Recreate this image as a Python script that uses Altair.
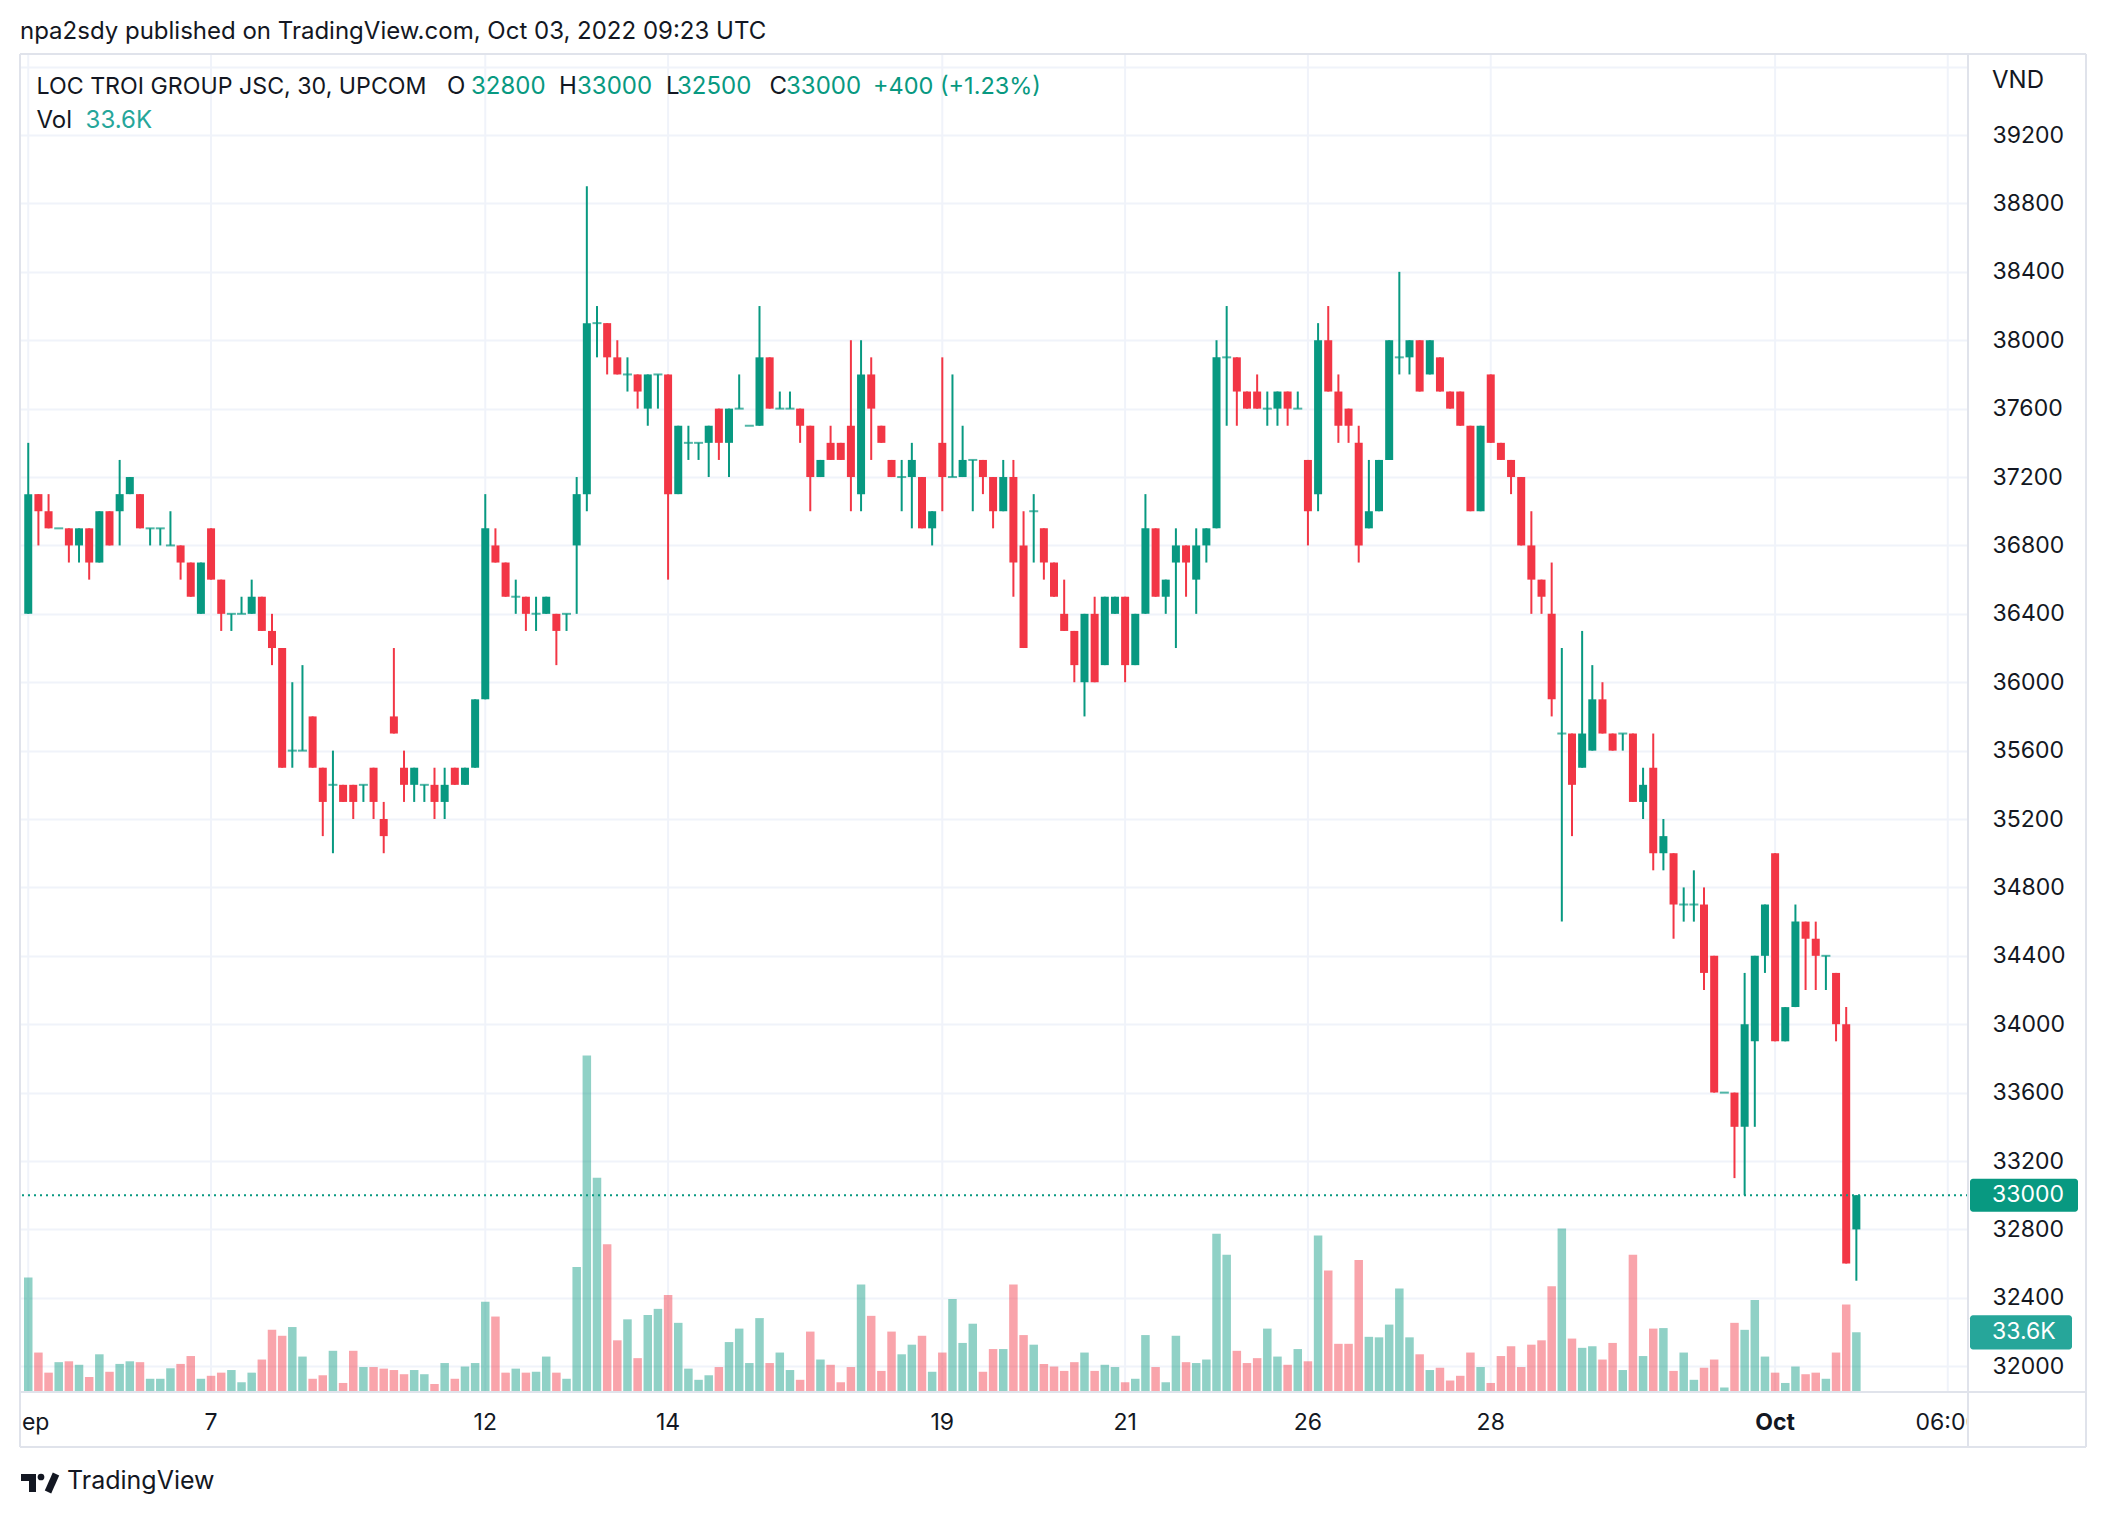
import altair as alt
import pandas as pd

# ---------------- data ----------------
opens = [36400,37100,37000,36900,36900,36800,36900,36700,37000,37000,
         37100,37100,36900,36900,36800,36800,36700,36400,36900,36600,
         36400,36400,36400,36500,36300,36200,35600,35600,35800,35500,
         35400,35400,35400,35400,35500,35200,35800,35500,35400,35400,
         35400,35300,35500,35400,35500,35900,36800,36700,36500,36500,
         36400,36400,36400,36400,36800,37100,38100,38100,37900,37800,
         37800,37600,37800,37800,37100,37400,37400,37400,37600,37400,
         37600,37500,37500,37900,37600,37600,37600,37500,37200,37400,
         37400,37500,37100,37800,37500,37300,37200,37200,37200,36900,
         37400,37200,37200,37300,37300,37200,37000,37200,36800,37000,
         36900,36700,36400,36300,36000,36400,36100,36400,36500,36100,
         36400,36900,36500,36700,36800,36600,36800,36900,37900,37900,
         37700,37700,37600,37600,37700,37600,37300,37100,38000,37700,
         37600,37400,36900,37000,37300,37900,37900,38000,37800,37900,
         37700,37700,37500,37000,37800,37400,37300,37200,36800,36600,
         36400,35700,35700,35500,35600,35900,35700,35700,35700,35300,
         35500,35000,35000,34700,34700,34700,34400,33600,33600,33400,
         33900,34400,35000,33900,34100,34600,34500,34400,34300,34000,
         32800]
highs = [37400,37100,37100,36900,36900,36900,36900,37000,37000,37300,
         37200,37100,36900,36900,37000,36800,36700,36700,36900,36600,
         36400,36500,36600,36500,36400,36200,36000,36100,35800,35500,
         35600,35400,35400,35400,35500,35300,36200,35600,35500,35400,
         35500,35500,35500,35500,35900,37100,36900,36700,36600,36500,
         36500,36500,36400,36400,37200,38900,38200,38100,38000,37900,
         37800,37800,37800,37800,37500,37500,37400,37500,37600,37600,
         37800,37500,38200,37900,37700,37700,37600,37500,37300,37500,
         37400,38000,38000,37900,37500,37300,37300,37400,37200,37000,
         37900,37800,37500,37300,37300,37200,37300,37300,37000,37100,
         36900,36700,36600,36300,36400,36500,36500,36500,36500,36400,
         37100,36900,36600,36900,36800,36900,36900,38000,38200,37900,
         37700,37800,37700,37700,37700,37700,37300,38100,38200,37800,
         37600,37500,37300,37300,38000,38400,38000,38000,38000,37900,
         37700,37700,37500,37500,37800,37400,37300,37200,37000,36600,
         36700,36200,35700,36300,36100,36000,35700,35700,35700,35500,
         35700,35200,35000,34800,34900,34800,34400,33600,33600,34300,
         34400,34700,35000,34100,34700,34600,34600,34400,34300,34100,
         33000]
lows = [36400,36800,36900,36900,36700,36700,36600,36700,36800,36800,
        37100,36900,36800,36800,36800,36600,36500,36400,36600,36300,
        36300,36400,36400,36300,36100,35500,35500,35600,35500,35100,
        35000,35300,35200,35300,35200,35000,35700,35300,35300,35300,
        35200,35200,35400,35400,35500,35900,36700,36500,36400,36300,
        36300,36400,36100,36300,36400,37000,37900,37800,37800,37700,
        37600,37500,37600,36600,37100,37300,37300,37200,37300,37200,
        37600,37500,37500,37600,37600,37600,37400,37000,37200,37300,
        37300,37000,37000,37300,37400,37200,37000,36900,36900,36800,
        37000,37200,37200,37000,37100,36900,37000,36500,36200,36700,
        36600,36500,36300,36000,35800,36000,36100,36400,36000,36100,
        36400,36500,36400,36200,36500,36400,36700,36900,37500,37500,
        37600,37600,37500,37500,37500,37600,36800,37000,37700,37400,
        37400,36700,36900,37000,37300,37800,37800,37700,37800,37700,
        37600,37500,37000,37000,37400,37300,37100,36800,36400,36400,
        35800,34600,35100,35500,35600,35700,35600,35600,35300,35200,
        34900,34900,34500,34600,34600,34200,33600,33600,33100,33000,
        33400,34300,33900,33900,34100,34200,34200,34200,33900,32600,
        32500]
closes = [37100,37000,36900,36900,36800,36900,36700,37000,36800,37100,
          37200,36900,36900,36900,36800,36700,36500,36700,36600,36400,
          36400,36400,36500,36300,36200,35500,35600,35600,35500,35300,
          35400,35300,35300,35400,35300,35100,35700,35400,35500,35400,
          35300,35400,35400,35500,35900,36900,36700,36500,36500,36400,
          36400,36500,36300,36400,37100,38100,38100,37900,37800,37800,
          37700,37800,37800,37100,37500,37400,37400,37500,37400,37600,
          37600,37500,37900,37600,37600,37600,37500,37200,37300,37300,
          37300,37200,37800,37600,37400,37200,37200,37300,36900,37000,
          37200,37200,37300,37300,37200,37000,37200,36700,36200,37000,
          36700,36500,36300,36100,36400,36000,36500,36500,36100,36400,
          36900,36500,36600,36800,36700,36800,36900,37900,37900,37700,
          37600,37600,37600,37700,37600,37600,37000,38000,37700,37500,
          37500,36800,37000,37300,38000,37900,38000,37700,38000,37700,
          37600,37500,37000,37500,37400,37300,37200,36800,36600,36500,
          35900,35700,35400,35700,35900,35700,35600,35700,35300,35400,
          35000,35100,34700,34700,34700,34300,33600,33600,33400,34000,
          34400,34700,33900,34100,34600,34500,34400,34400,34000,32600,
          33000]
volumes_k = [65,22,10.5,16.5,17,15,8,21,11,15.5,
             17,16.5,7,7,13,15.5,20,7,8.7,10.5,
             12,5,10.5,18,35,31.6,36.6,19.7,7,9,
             23,4.6,23,13.7,13.7,12.8,12,9.6,12,9.6,
             4,16,7,14,16,51,42.6,10.5,12.8,10.5,
             11,19.7,10.5,7,71,192,122,84,29,41,
             18.8,43.5,47,55,39,12.8,6.4,9,13.7,28,
             35.7,16,41.7,16,22,12,6.4,34,18,15,
             5,13.7,61,43,11.5,34,21,26.5,31.6,11,
             22,52.7,27.5,38.5,11,24,24,61,32,26.5,
             15.5,14,11.5,16.5,22,11.5,15,13.7,5,7,
             32,13.7,5,31.6,16.5,16,18,90,78,23,
             16,18.8,35.7,19.7,15,24,17,89,69,27,
             27,75,31,30.7,38,58.6,30.7,21,12,13.3,
             6,8.7,22,13.7,4.6,20,25.6,13.7,26.5,29,
             60,93,30,24.7,25.6,18,27.5,12,78,20,
             35.7,36,11.5,22,6.4,13.3,18,2,39,35,
             52,19.7,10.5,4.6,14,9.6,10.5,7,22,49.5,
             33.6]

tick_idx = [0, 18, 45, 63, 90, 108, 126, 144, 189]
tick_labels = ["Sep", "7", "12", "14", "19", "21", "26", "28", "06:00"]
month_idx = [172]
month_labels = ["Oct"]
price_ticks = list(range(32000, 39601, 400))
last_price = 33000
last_volume = 33600

# ---------------- styling ----------------
GREEN = "#089981"
RED = "#f23645"
VOLTEAL = "#26a69a"
TXT = "#131722"
GRID = "#f0f3fa"
BORDER = "#e0e3eb"
FONT = "Inter"
W, H = 1948, 1337

df = pd.DataFrame({
    "i": list(range(len(opens))),
    "open": opens, "high": highs, "low": lows, "close": closes,
    "vol": [v * 1000 for v in volumes_k],
})
ticks_df = pd.DataFrame({"i": tick_idx, "label": tick_labels})
month_df = pd.DataFrame({"i": month_idx, "label": month_labels})
vgrid_df = pd.DataFrame({"i": tick_idx + month_idx})
one = pd.DataFrame({"k": [0]})

xs = alt.Scale(domain=[-0.32, 190.5], nice=False, zero=False)
ys = alt.Scale(domain=[31855, 39674], nice=False, zero=False)
vs = alt.Scale(domain=[0, 765000], nice=False, zero=True)
col = alt.Color("dir:N", scale=alt.Scale(domain=["up", "down"], range=[GREEN, RED]), legend=None)
X = alt.X("i:Q", scale=xs, axis=None)

yaxis = alt.Axis(orient="right", values=price_ticks, format="d",
                 labelExpr="datum.value > 39300 ? '' : datum.label",
                 labelPadding=24, tickSize=0, domain=False, grid=True,
                 gridColor=GRID, gridWidth=2, labelFont=FONT, labelFontSize=23,
                 labelColor=TXT, labelAlign="left", labelBaseline="middle", title=None)

base = alt.Chart(df).transform_calculate(dir="datum.close >= datum.open ? 'up' : 'down'")

# ---- background vertical grid ----
vgrid = alt.Chart(vgrid_df).mark_rule(color=GRID, strokeWidth=2).encode(x=X)

# ---- volume sub-layer (own scale) ----
vol_bars = base.mark_bar(size=8.5, opacity=0.45).encode(
    x=X, y=alt.Y("vol:Q", scale=vs, axis=None), color=col)
vol_badge = alt.Chart(one).mark_rect(color=VOLTEAL, cornerRadius=3).encode(
    x=alt.value(1950), x2=alt.value(2052),
    y=alt.YDatum(last_volume + 9800, scale=vs, axis=None),
    y2=alt.Y2Datum(last_volume - 9800))
vol_badge_txt = alt.Chart(one).mark_text(align="left", baseline="middle", color="white",
                                         font=FONT, fontSize=23, text="33.6K").encode(
    x=alt.value(1972), y=alt.YDatum(last_volume, scale=vs, axis=None))
vol_layer = alt.layer(vol_bars, vol_badge, vol_badge_txt)

# ---- price sub-layer ----
wicks = base.mark_rule(strokeWidth=2).encode(
    x=X, y=alt.Y("low:Q", scale=ys, axis=yaxis), y2="high:Q", color=col)
bodies = base.transform_filter("datum.open != datum.close").mark_bar(size=8).encode(
    x=X, y=alt.Y("open:Q", scale=ys, axis=yaxis), y2="close:Q", color=col)
dojis = base.transform_filter("datum.open == datum.close").mark_tick(
    orient="horizontal", size=9, thickness=2).encode(
    x=X, y=alt.Y("close:Q", scale=ys, axis=yaxis), color=col)
last_line = alt.Chart(one).mark_rule(color=GREEN, strokeDash=[2, 4], strokeWidth=2).encode(
    y=alt.YDatum(last_price, scale=ys, axis=yaxis))
price_badge = alt.Chart(one).mark_rect(color=GREEN, cornerRadius=3).encode(
    x=alt.value(1950), x2=alt.value(2058),
    y=alt.YDatum(last_price + 97, scale=ys, axis=yaxis), y2=alt.Y2Datum(last_price - 97))
price_badge_txt = alt.Chart(one).mark_text(align="left", baseline="middle", color="white",
                                           font=FONT, fontSize=23, text="33000").encode(
    x=alt.value(1972), y=alt.YDatum(last_price, scale=ys, axis=yaxis))
price_layer = alt.layer(wicks, bodies, dojis, last_line, price_badge, price_badge_txt)

# ---- decorations (pixel positioned) ----
xlab = alt.Chart(ticks_df).mark_text(align="center", baseline="alphabetic", font=FONT,
                                     fontSize=23, color=TXT).encode(
    x=X, y=alt.value(H + 39), text="label:N")
xlab_b = alt.Chart(month_df).mark_text(align="center", baseline="alphabetic", font=FONT,
                                       fontSize=23, fontWeight="bold", color=TXT).encode(
    x=X, y=alt.value(H + 39), text="label:N")

def rect(x1, x2, y1, y2, color):
    return alt.Chart(one).mark_rect(color=color).encode(
        x=alt.value(x1), x2=alt.value(x2), y=alt.value(y1), y2=alt.value(y2))

def hline(x1, x2, y, color=BORDER, w=2):
    return alt.Chart(one).mark_rule(color=color, strokeWidth=w).encode(
        x=alt.value(x1), x2=alt.value(x2), y=alt.value(y))

def vline(x, y1, y2, color=BORDER, w=2):
    return alt.Chart(one).mark_rule(color=color, strokeWidth=w).encode(
        x=alt.value(x), y=alt.value(y1), y2=alt.value(y2))

def text(s, x, y, size=24, color=TXT, weight="normal", align="left"):
    return alt.Chart(one).mark_text(text=s, align=align, baseline="alphabetic", font=FONT,
                                    fontSize=size, fontWeight=weight, color=color).encode(
        x=alt.value(x), y=alt.value(y))

covers = [rect(-20, 0, H + 2, H + 60, "white"), rect(W + 1, 2086, H + 2, H + 60, "white")]
frame = [hline(0, 2066, 0), hline(0, 2066, 1393), vline(0, 0, 1393), vline(2066, 0, 1393),
         vline(W, 0, 1393), hline(0, 2066, H + 1)]

header = [
    text("npa2sdy published on TradingView.com, Oct 03, 2022 09:23 UTC", 0, -15, size=24),
    text("LOC TROI GROUP JSC, 30, UPCOM", 16.5, 40, size=23.2),
    text("O", 427, 40), text("32800", 451, 40, color=GREEN),
    text("H", 539, 40), text("33000", 557, 40, color=GREEN),
    text("L", 646, 40), text("32500", 657, 40, color=GREEN),
    text("C", 749.5, 40), text("33000", 766, 40, color=GREEN),
    text("+400 (+1.23%)", 853, 40, color=GREEN, size=23.5),
    text("Vol", 16.5, 74), text("33.6K", 65.6, 74, color=VOLTEAL),
    text("VND", 1972, 34, size=24),
    text("TradingView", 47, 1435, size=25),
]
logo = [
    rect(1, 16, 1420, 1427, TXT), rect(9, 16, 1420, 1438, TXT),
    alt.Chart(one).mark_point(filled=True, shape="circle", size=45, color=TXT, opacity=1).encode(
        x=alt.value(21), y=alt.value(1423)),
    alt.Chart(one).mark_rule(color=TXT, strokeWidth=7).encode(
        x=alt.value(36), x2=alt.value(28), y=alt.value(1420), y2=alt.value(1438)),
]
deco_layer = alt.layer(xlab, xlab_b, *covers, *frame, *header, *logo)

chart = alt.layer(vgrid, vol_layer, price_layer, deco_layer).resolve_scale(
    y="independent"
).properties(
    width=W, height=H,
    autosize=alt.AutoSizeParams(type="none"),
    padding={"left": 20, "top": 54, "right": 138, "bottom": 127},
    background="white",
).configure_view(strokeWidth=0).configure(font=FONT)

chart.save("out.html", embed_options={"renderer": "svg", "actions": False})
